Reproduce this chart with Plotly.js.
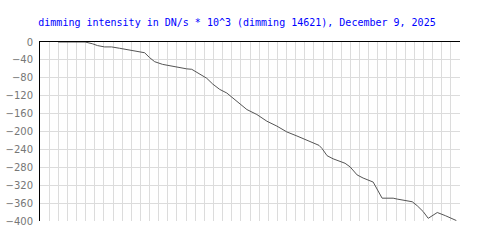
<!DOCTYPE html>
<html>
<head>
<meta charset="utf-8">
<script src="https://cdn.plot.ly/plotly-3.0.1.min.js"></script>
<style>html,body{margin:0;padding:0;background:#fff;}#chart{width:500px;height:250px;}</style>
</head>
<body>
<div id="chart"></div>
<script>
// time index (grid units) and dimming intensity (DN/s * 10^3)
const timeIdx = [1.99, 4.95, 5.75, 6.30, 7.07, 7.84, 8.72, 9.81, 10.69, 11.46, 12.01, 12.56, 13.43, 14.42, 15.30, 16.07, 16.62, 17.17, 17.50, 18.26, 18.92, 19.69, 20.46, 21.12, 21.89, 22.66, 23.75, 24.85, 25.95, 27.04, 28.14, 29.24, 30.12, 30.56, 30.89, 31.44, 32.10, 32.53, 33.41, 33.96, 34.73, 35.39, 36.49, 37.47, 38.68, 39.12, 40.33, 40.77, 41.32, 41.97, 42.52, 43.51, 44.39, 45.60];
const dimming = [0, 0, -4, -8, -11, -11, -14, -18, -20, -24, -35, -44, -50, -54, -57, -60, -61, -68, -71, -81, -94, -106, -114, -125, -138, -151, -162, -177, -188, -201, -210, -219, -227, -231, -238, -254, -261, -264, -271, -279, -297, -304, -313, -349, -349, -351, -355, -357, -366, -379, -394, -381, -388, -399];
const yTicks = [0, -40, -80, -120, -160, -200, -240, -280, -320, -360, -400];
const titleText = 'dimming intensity in DN/s * 10^3 (dimming 14621), December 9, 2025';

Plotly.newPlot('chart', [{
  x: timeIdx, y: dimming, type: 'scatter', mode: 'lines',
  line: {color: '#555555', width: 1}, hoverinfo: 'skip'
}], {
  width: 500, height: 250,
  margin: {l: 40, r: 40, t: 42, b: 29},
  paper_bgcolor: '#ffffff', plot_bgcolor: '#ffffff',
  showlegend: false,
  title: {text: titleText, font: {family: 'DejaVu Sans Mono', size: 10, color: '#0000ff'},
          xref: 'container', x: 0.474, xanchor: 'center', yref: 'container', y: 0.91, yanchor: 'middle'},
  xaxis: {range: [0, 46], dtick: 1, tick0: 0, showticklabels: false, ticks: '',
          showgrid: true, gridcolor: '#dcdcdc', gridwidth: 1, zeroline: false,
          showline: true, linecolor: '#000000', linewidth: 1, side: 'top', mirror: false, fixedrange: true},
  yaxis: {range: [-400, 0], tickvals: yTicks, ticktext: yTicks.map(v => v === 0 ? '0' : '\u2212' + Math.abs(v)),
          showgrid: true, gridcolor: '#dcdcdc', gridwidth: 1, zeroline: false, ticks: '',
          showline: true, linecolor: '#000000', linewidth: 1, ticklabelstandoff: 4,
          tickfont: {family: 'DejaVu Sans', size: 10, color: '#777777'}, fixedrange: true}
}, {staticPlot: true});
</script>
</body>
</html>
